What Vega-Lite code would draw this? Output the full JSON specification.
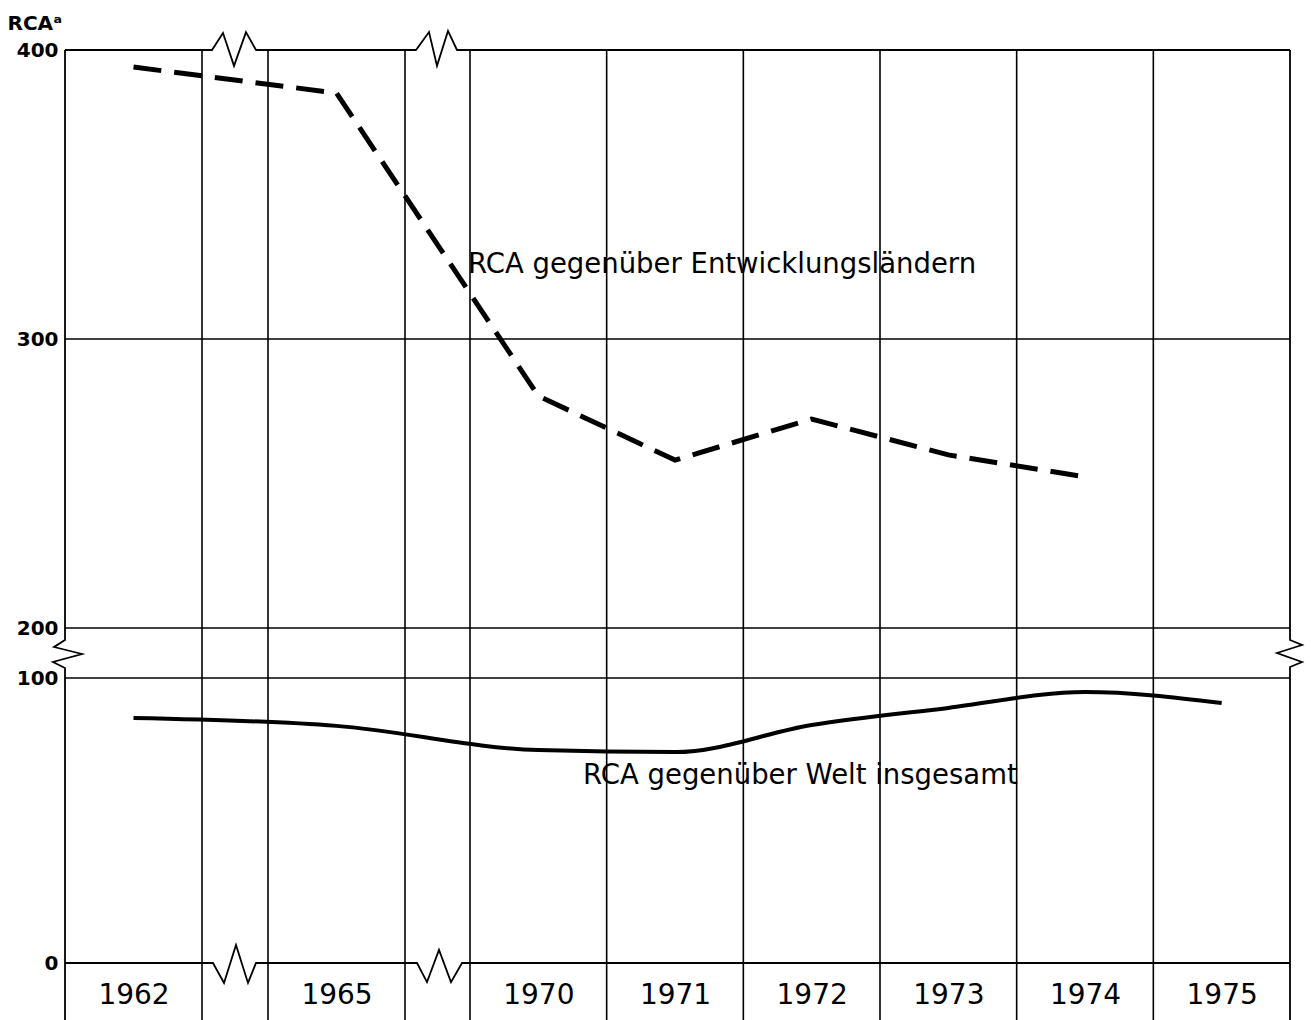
{
  "$schema": "https://vega.github.io/schema/vega-lite/v6.json",
  "width": 1225,
  "height": 913,
  "autosize": {"type": "none"},
  "padding": {"left": 65, "top": 50, "right": 21, "bottom": 57},
  "background": "white",
  "config": {
    "view": {"stroke": null},
    "font": "DejaVu Sans",
    "axis": {"labelColor": "black", "titleColor": "black"}
  },
  "datasets": {
    "series": [
      {"year": 1962, "rca": 394.1, "series": "Entwicklungsländer"},
      {"year": 1965, "rca": 385.1, "series": "Entwicklungsländer"},
      {"year": 1970, "rca": 280.3, "series": "Entwicklungsländer"},
      {"year": 1971, "rca": 258.1, "series": "Entwicklungsländer"},
      {"year": 1972, "rca": 272.3, "series": "Entwicklungsländer"},
      {"year": 1973, "rca": 259.9, "series": "Entwicklungsländer"},
      {"year": 1974, "rca": 252.3, "series": "Entwicklungsländer"},
      {"year": 1962, "rca": 86.0, "series": "Welt"},
      {"year": 1965, "rca": 83.2, "series": "Welt"},
      {"year": 1970, "rca": 74.7, "series": "Welt"},
      {"year": 1971, "rca": 74.0, "series": "Welt"},
      {"year": 1972, "rca": 83.5, "series": "Welt"},
      {"year": 1973, "rca": 89.5, "series": "Welt"},
      {"year": 1974, "rca": 95.1, "series": "Welt"},
      {"year": 1975, "rca": 91.2, "series": "Welt"}
    ],
    "vgrid": [
      {"year": 1962.5}, {"year": 1964.5}, {"year": 1965.5}, {"year": 1969.5},
      {"year": 1970.5}, {"year": 1971.5}, {"year": 1972.5}, {"year": 1973.5}, {"year": 1974.5}
    ],
    "hgrid": [{"rca": 100}, {"rca": 200}, {"rca": 300}],
    "frame": [
      {"seg": "top", "i": 1, "year": 1961.5, "rca": 400},
      {"seg": "top", "i": 2, "year": 1962.803, "rca": 400},
      {"seg": "top", "i": 3, "year": 1963.136, "rca": 405.9},
      {"seg": "top", "i": 4, "year": 1963.47, "rca": 394.5},
      {"seg": "top", "i": 5, "year": 1963.833, "rca": 406.2},
      {"seg": "top", "i": 6, "year": 1964.136, "rca": 400},
      {"seg": "top", "i": 7, "year": 1966.177, "rca": 400},
      {"seg": "top", "i": 8, "year": 1966.977, "rca": 406.2},
      {"seg": "top", "i": 9, "year": 1967.469, "rca": 394.5},
      {"seg": "top", "i": 10, "year": 1968.146, "rca": 406.6},
      {"seg": "top", "i": 11, "year": 1968.7, "rca": 400},
      {"seg": "top", "i": 12, "year": 1975.5, "rca": 400},
      {"seg": "bottom", "i": 1, "year": 1961.5, "rca": 0},
      {"seg": "bottom", "i": 2, "year": 1962.833, "rca": 0},
      {"seg": "bottom", "i": 3, "year": 1963.167, "rca": -7.0},
      {"seg": "bottom", "i": 4, "year": 1963.53, "rca": 6.3},
      {"seg": "bottom", "i": 5, "year": 1963.894, "rca": -7.0},
      {"seg": "bottom", "i": 6, "year": 1964.136, "rca": 0},
      {"seg": "bottom", "i": 7, "year": 1966.238, "rca": 0},
      {"seg": "bottom", "i": 8, "year": 1966.854, "rca": -6.7},
      {"seg": "bottom", "i": 9, "year": 1967.592, "rca": 4.6},
      {"seg": "bottom", "i": 10, "year": 1968.331, "rca": -6.7},
      {"seg": "bottom", "i": 11, "year": 1969.008, "rca": 0},
      {"seg": "bottom", "i": 12, "year": 1975.5, "rca": 0},
      {"seg": "left", "i": 1, "year": 1961.5, "rca": 400},
      {"seg": "left", "i": 2, "year": 1961.5, "rca": 176},
      {"seg": "left", "i": 3, "year": 1961.42, "rca": 162},
      {"seg": "left", "i": 4, "year": 1961.624, "rca": 148},
      {"seg": "left", "i": 5, "year": 1961.412, "rca": 132},
      {"seg": "left", "i": 6, "year": 1961.5, "rca": 120},
      {"seg": "left", "i": 7, "year": 1961.5, "rca": -20},
      {"seg": "right", "i": 1, "year": 1975.5, "rca": 400},
      {"seg": "right", "i": 2, "year": 1975.5, "rca": 176},
      {"seg": "right", "i": 3, "year": 1975.588, "rca": 166},
      {"seg": "right", "i": 4, "year": 1975.405, "rca": 150},
      {"seg": "right", "i": 5, "year": 1975.588, "rca": 132},
      {"seg": "right", "i": 6, "year": 1975.5, "rca": 122},
      {"seg": "right", "i": 7, "year": 1975.5, "rca": -20}
    ],
    "notes": [
      {"year": 1969.377, "rca": 325.6, "text": "RCA gegenüber Entwicklungsländern"},
      {"year": 1970.327, "rca": 65.6, "text": "RCA gegenüber Welt insgesamt"}
    ]
  },
  "layer": [
    {
      "data": {"name": "vgrid"},
      "mark": {"type": "rule", "color": "black", "strokeWidth": 1.6, "clip": false},
      "encoding": {
        "x": {
          "field": "year", "type": "quantitative",
          "scale": {"domain": [1961.5, 1962.5, 1964.5, 1965.5, 1969.5, 1975.5], "range": [0, 137, 203, 340, 405, 1225], "nice": false, "zero": false},
          "axis": {
            "values": [1962, 1965, 1970, 1971, 1972, 1973, 1974, 1975],
            "format": "d", "title": null, "domain": false, "ticks": false, "grid": false,
            "labelFontSize": 28, "labelBaseline": "middle", "labelPadding": 32, "labelFont": "DejaVu Sans"
          }
        },
        "y": {
          "datum": 400, "type": "quantitative",
          "scale": {"domain": [0, 100, 200, 400], "range": [913, 628, 578, 0], "nice": false, "zero": false},
          "axis": {
            "values": [0, 100, 200, 300, 400], "title": "RCAᵃ", "domain": false, "ticks": false, "grid": false,
            "labelFontSize": 20, "labelFontWeight": "bold", "labelPadding": 7,
            "titleAngle": 0, "titleAlign": "left", "titleBaseline": "middle", "titleX": -58, "titleY": -27,
            "titleFontSize": 20, "titleFontWeight": "bold"
          }
        },
        "y2": {"datum": -20}
      }
    },
    {
      "data": {"name": "hgrid"},
      "mark": {"type": "rule", "color": "black", "strokeWidth": 1.6},
      "encoding": {"y": {"field": "rca", "type": "quantitative"}}
    },
    {
      "data": {"name": "frame"},
      "mark": {"type": "line", "color": "black", "strokeWidth": 1.8, "clip": false},
      "encoding": {
        "x": {"field": "year", "type": "quantitative"},
        "y": {"field": "rca", "type": "quantitative"},
        "detail": {"field": "seg"},
        "order": {"field": "i"}
      }
    },
    {
      "data": {"name": "series"},
      "transform": [{"filter": "datum.series == 'Entwicklungsländer'"}],
      "mark": {"type": "line", "color": "black", "strokeWidth": 5, "strokeDash": [28, 13]},
      "encoding": {
        "x": {"field": "year", "type": "quantitative"},
        "y": {"field": "rca", "type": "quantitative"}
      }
    },
    {
      "data": {"name": "series"},
      "transform": [{"filter": "datum.series == 'Welt'"}],
      "mark": {"type": "line", "color": "black", "strokeWidth": 4, "interpolate": "monotone"},
      "encoding": {
        "x": {"field": "year", "type": "quantitative"},
        "y": {"field": "rca", "type": "quantitative"}
      }
    },
    {
      "data": {"name": "notes"},
      "mark": {"type": "text", "align": "left", "baseline": "middle", "fontSize": 27.5, "font": "DejaVu Sans", "color": "black"},
      "encoding": {
        "x": {"field": "year", "type": "quantitative"},
        "y": {"field": "rca", "type": "quantitative"},
        "text": {"field": "text"}
      }
    }
  ]
}
